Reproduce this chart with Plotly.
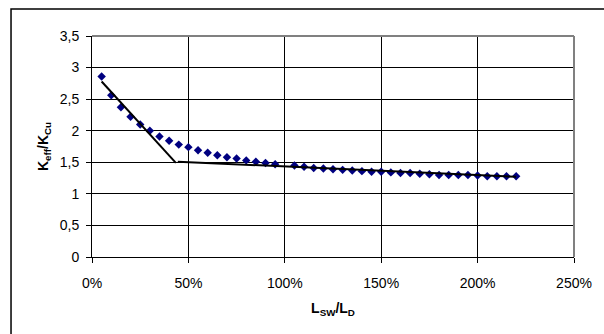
import plotly.graph_objects as go

# data
ratio_pct = [0.05, 0.10, 0.15, 0.20, 0.25, 0.30, 0.35, 0.40, 0.45, 0.50,
             0.55, 0.60, 0.65, 0.70, 0.75, 0.80, 0.85, 0.90, 0.95,
             1.05, 1.10, 1.15, 1.20, 1.25, 1.30, 1.35, 1.40, 1.45, 1.50,
             1.55, 1.60, 1.65, 1.70, 1.75, 1.80, 1.85, 1.90, 1.95, 2.00,
             2.05, 2.10, 2.15, 2.20]
keff_ratio = [2.86, 2.56, 2.37, 2.22, 2.10, 2.00, 1.91, 1.84, 1.78, 1.74,
              1.69, 1.65, 1.61, 1.58, 1.56, 1.53, 1.51, 1.49, 1.47,
              1.45, 1.43, 1.41, 1.40, 1.39, 1.38, 1.37, 1.36, 1.35, 1.35,
              1.34, 1.33, 1.33, 1.32, 1.31, 1.30, 1.30, 1.30, 1.30, 1.29,
              1.28, 1.28, 1.28, 1.28]
fit_x = [0.05, 0.435, None, 0.445, 2.20]
fit_y = [2.78, 1.49, None, 1.51, 1.27]
x_ticks = [0, 0.5, 1.0, 1.5, 2.0, 2.5]
y_ticks = [0, 0.5, 1.0, 1.5, 2.0, 2.5, 3.0, 3.5]

FONT = "Liberation Sans, Arial, sans-serif"

fig = go.Figure()
fig.add_trace(go.Scatter(x=ratio_pct, y=keff_ratio, mode="markers",
                         marker=dict(symbol="diamond", size=6.5, color="#000080",
                                     line=dict(width=0)),
                         showlegend=False, cliponaxis=False))
fig.add_trace(go.Scatter(x=fit_x, y=fit_y, mode="lines",
                         line=dict(color="black", width=2),
                         showlegend=False))

fig.update_layout(
    width=604, height=334,
    margin=dict(l=92, r=24, t=36, b=77),
    paper_bgcolor="white", plot_bgcolor="white",
    separators=",.",
    font=dict(family=FONT, size=14, color="black"),
    xaxis=dict(range=[0, 2.5], tickvals=x_ticks, tickformat=".0%",
               showgrid=True, gridcolor="black", gridwidth=1,
               showline=True, linecolor="black", linewidth=1,
               ticks="outside", ticklen=5, tickcolor="black",
               ticklabelstandoff=8, zeroline=False,
               title=dict(text="<b>L<sub>SW</sub>/L<sub>D</sub></b>",
                          font=dict(size=14), standoff=13)),
    yaxis=dict(range=[0, 3.5], tickvals=y_ticks,
               showgrid=True, gridcolor="black", gridwidth=1,
               showline=True, linecolor="black", linewidth=1,
               ticks="outside", ticklen=5, tickcolor="black",
               ticklabelstandoff=4, zeroline=False,
               title=dict(text="<b>K<sub>eff</sub>/K<sub>Cu</sub></b>",
                          font=dict(size=14), standoff=7)),
    shapes=[
        dict(type="line", xref="paper", yref="paper", x0=0, x1=1, y0=1, y1=1,
             line=dict(color="#808080", width=2)),
        dict(type="line", xref="paper", yref="paper", x0=1, x1=1, y0=0, y1=1,
             line=dict(color="#808080", width=2)),
        dict(type="rect", xref="paper", yref="paper",
             x0=-0.168, x1=1.07, y0=-0.4, y1=1.122,
             line=dict(color="black", width=1.5), layer="below"),
    ],
)

fig.write_html("out.html")
